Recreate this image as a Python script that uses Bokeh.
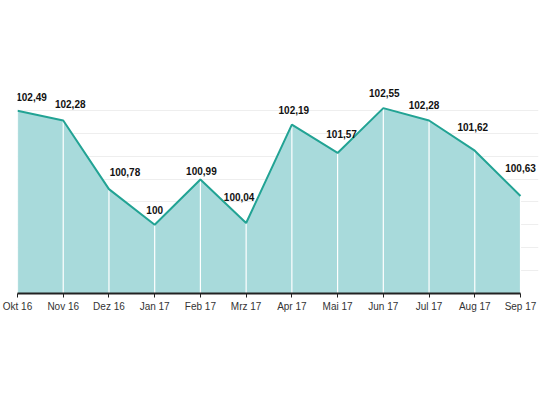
from bokeh.plotting import figure
from bokeh.models import Range1d, FixedTicker, ColumnDataSource, LabelSet
from bokeh.core.properties import value
from bokeh.embed import file_html
from bokeh.resources import INLINE

months = ["Okt 16", "Nov 16", "Dez 16", "Jan 17", "Feb 17", "Mrz 17",
          "Apr 17", "Mai 17", "Jun 17", "Jul 17", "Aug 17", "Sep 17"]
values = [102.49, 102.28, 100.78, 100.00, 100.99, 100.04,
          102.19, 101.57, 102.55, 102.28, 101.62, 100.63]
labels = ["102,49", "102,28", "100,78", "100", "100,99", "100,04",
          "102,19", "101,57", "102,55", "102,28", "101,62", "100,63"]

# label placement (pixels) to keep texts clear of the line
label_dx = [14, 7, 16, 0, 1, -7, 2, 4, 1, -5, -2, 0]
label_dy = [14, 16, 17, 15, 9, 26, 15, 19, 15, 15, 24, 28]

y_min, y_max = 98.5, 103.0
xs = list(range(len(months)))
n_last = len(months) - 1

# data span is 503px wide; frame extends a bit further right so end labels are not clipped
frame_w = 521
x_end = n_last * frame_w / 503.0

p = figure(frame_width=frame_w, frame_height=206, output_backend="svg", toolbar_location=None,
           x_range=Range1d(0, x_end), y_range=Range1d(y_min, y_max),
           min_border_left=17, min_border_right=6, min_border_top=87,
           min_border_bottom=40)
p.outline_line_color = None
p.background_fill_color = "white"
p.border_fill_color = "white"

p.varea(x=xs, y1=[y_min] * len(xs), y2=values, fill_color="#a8dadb", fill_alpha=1.0)
p.segment(x0=xs, y0=[y_min] * len(xs), x1=xs, y1=values, line_color="white", line_width=1.2)
p.line(xs, values, line_color="#22a394", line_width=2)

src = ColumnDataSource(dict(x=xs, y=values, t=labels, dx=label_dx, dy=label_dy))
lbl = LabelSet(x="x", y="y", text="t", x_offset="dx", y_offset="dy", source=src,
               text_align="center", text_baseline="middle",
               text_font_size=value("10px"), text_font_style=value("bold"),
               text_color=value("#111111"), text_font=value("Liberation Sans"))
p.add_layout(lbl)

p.yaxis.visible = False
p.ygrid.ticker = FixedTicker(ticks=[98.5 + 0.5 * i for i in range(10)])
p.ygrid.grid_line_color = "#eeeeee"
p.ygrid.grid_line_width = 1
p.ygrid.bounds = (0, n_last)
p.xgrid.visible = False

ax = p.xaxis[0]
ax.bounds = (0, n_last)
ax.ticker = FixedTicker(ticks=xs)
ax.major_label_overrides = {i: m for i, m in enumerate(months)}
ax.major_label_text_font = "Liberation Sans"
ax.major_label_text_font_size = "10px"
ax.major_label_text_color = "#333333"
ax.axis_line_color = "#222222"
ax.axis_line_width = 2
ax.major_tick_line_color = "#222222"
ax.major_tick_out = 4
ax.major_tick_in = 0
ax.minor_tick_line_color = None
ax.major_label_standoff = 3

open("out.html", "w").write(file_html(p, INLINE))
